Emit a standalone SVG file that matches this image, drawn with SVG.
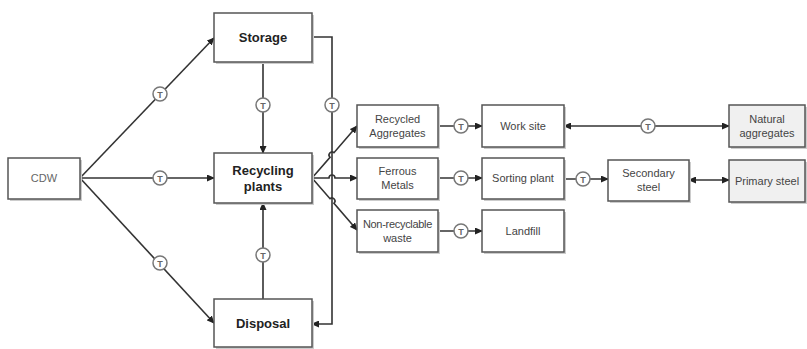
<svg xmlns="http://www.w3.org/2000/svg" width="807" height="349" viewBox="0 0 807 349">
<defs>
<marker id="ar" markerWidth="8" markerHeight="7" refX="7" refY="3.5" orient="auto-start-reverse" markerUnits="userSpaceOnUse">
<path d="M0,0 L8,3.5 L0,7 Z" fill="#222"/>
</marker>
</defs>
<style>
.box{fill:#fff;stroke:#555;stroke-width:1.5}
.gray{fill:#f0f0f0}
.sh{fill:#ccc;stroke:none}
.ln{fill:none;stroke:#333;stroke-width:1.6}
.tc{fill:#fff;stroke:#777;stroke-width:1.5}
.tt{font-family:"Liberation Sans",Arial,sans-serif;font-size:9px;fill:#666;text-anchor:middle;font-weight:bold}
.b{font-family:"Liberation Sans",Arial,sans-serif;font-size:13px;font-weight:bold;fill:#222;text-anchor:middle}
.r{font-family:"Liberation Sans",Arial,sans-serif;font-size:11px;fill:#444;text-anchor:middle}
</style>
<rect width="807" height="349" fill="#fff"/>
<g id="connectors">
<path class="ln" d="M80,178 L214,38" marker-end="url(#ar)"/>
<path class="ln" d="M80,178 L214,178" marker-end="url(#ar)"/>
<path class="ln" d="M80,178 L214,323" marker-end="url(#ar)"/>
<path class="ln" d="M263,62 L263,153" marker-end="url(#ar)"/>
<path class="ln" d="M263,299 L263,203" marker-end="url(#ar)"/>
<path class="ln" d="M312,37 L332,37 L332,324 L312,324" marker-end="url(#ar)"/>
<path class="ln" d="M312,178 L330.04,157.27 A3,3 0 0 1 333.96,152.73 L357,126" marker-end="url(#ar)"/>
<path class="ln" d="M312,178 L329,178 A3,3 0 0 1 335,178 L357,178" marker-end="url(#ar)"/>
<path class="ln" d="M312,178 L330.04,198.73 A3,3 0 0 1 333.96,203.27 L357,230" marker-end="url(#ar)"/>
<path class="ln" d="M438,126 L482,126" marker-end="url(#ar)"/>
<path class="ln" d="M438,178 L482,178" marker-end="url(#ar)"/>
<path class="ln" d="M438,231 L482,231" marker-end="url(#ar)"/>
<path class="ln" d="M564,126 L729,126" marker-start="url(#ar)" marker-end="url(#ar)"/>
<path class="ln" d="M564,179 L608,179" marker-end="url(#ar)"/>
<path class="ln" d="M689,180 L729,180" marker-start="url(#ar)" marker-end="url(#ar)"/>
</g>
<g id="transport">
<g><circle class="tc" cx="160" cy="94" r="7"/><text class="tt" x="160" y="97.5">T</text></g>
<g><circle class="tc" cx="160" cy="178" r="7"/><text class="tt" x="160" y="181.5">T</text></g>
<g><circle class="tc" cx="160" cy="263" r="7"/><text class="tt" x="160" y="266.5">T</text></g>
<g><circle class="tc" cx="263" cy="105" r="7"/><text class="tt" x="263" y="108.5">T</text></g>
<g><circle class="tc" cx="263" cy="255" r="7"/><text class="tt" x="263" y="258.5">T</text></g>
<g><circle class="tc" cx="332" cy="105" r="7"/><text class="tt" x="332" y="108.5">T</text></g>
<g><circle class="tc" cx="461" cy="126" r="7"/><text class="tt" x="461" y="129.5">T</text></g>
<g><circle class="tc" cx="461" cy="178" r="7"/><text class="tt" x="461" y="181.5">T</text></g>
<g><circle class="tc" cx="461" cy="231" r="7"/><text class="tt" x="461" y="234.5">T</text></g>
<g><circle class="tc" cx="648" cy="126" r="7"/><text class="tt" x="648" y="129.5">T</text></g>
<g><circle class="tc" cx="583" cy="179" r="7"/><text class="tt" x="583" y="182.5">T</text></g>
</g>
<g id="cdw"><rect class="sh" x="10" y="160" width="72" height="41"/><rect class="box" x="8" y="158" width="72" height="41"/><text class="r" x="44" y="182" style="fill:#666">CDW</text></g>
<g id="storage"><rect class="sh" x="216" y="15" width="98" height="49"/><rect class="box" x="214" y="13" width="98" height="49"/><text class="b" x="263" y="42">Storage</text></g>
<g id="recycling"><rect class="sh" x="216" y="155" width="98" height="50"/><rect class="box" x="214" y="153" width="98" height="50"/><text class="b" x="263" y="175">Recycling</text><text class="b" x="263" y="191">plants</text></g>
<g id="disposal"><rect class="sh" x="216" y="301" width="98" height="48"/><rect class="box" x="214" y="299" width="98" height="48"/><text class="b" x="263" y="328">Disposal</text></g>
<g id="recycled-aggregates"><rect class="sh" x="359" y="107" width="81" height="42"/><rect class="box" x="357" y="105" width="81" height="42"/><text class="r" x="397.5" y="123">Recycled</text><text class="r" x="397.5" y="137">Aggregates</text></g>
<g id="ferrous-metals"><rect class="sh" x="359" y="160" width="81" height="41"/><rect class="box" x="357" y="158" width="81" height="41"/><text class="r" x="397.5" y="175">Ferrous</text><text class="r" x="397.5" y="189">Metals</text></g>
<g id="non-recyclable"><rect class="sh" x="359" y="212" width="81" height="42"/><rect class="box" x="357" y="210" width="81" height="42"/><text class="r" x="397.5" y="228" style="letter-spacing:-0.3px">Non-recyclable</text><text class="r" x="397.5" y="242">waste</text></g>
<g id="work-site"><rect class="sh" x="484" y="107" width="82" height="42"/><rect class="box" x="482" y="105" width="82" height="42"/><text class="r" x="523" y="130">Work site</text></g>
<g id="sorting-plant"><rect class="sh" x="484" y="160" width="82" height="41"/><rect class="box" x="482" y="158" width="82" height="41"/><text class="r" x="523" y="182">Sorting plant</text></g>
<g id="landfill"><rect class="sh" x="484" y="212" width="82" height="42"/><rect class="box" x="482" y="210" width="82" height="42"/><text class="r" x="523" y="235">Landfill</text></g>
<g id="secondary-steel"><rect class="sh" x="610" y="162" width="81" height="41"/><rect class="box" x="608" y="160" width="81" height="41"/><text class="r" x="648.5" y="177">Secondary</text><text class="r" x="648.5" y="191">steel</text></g>
<g id="natural-aggregates"><rect class="sh" x="731" y="107" width="76" height="42"/><rect class="box gray" x="729" y="105" width="76" height="42"/><text class="r" x="767" y="123">Natural</text><text class="r" x="767" y="137">aggregates</text></g>
<g id="primary-steel"><rect class="sh" x="731" y="162" width="76" height="42"/><rect class="box gray" x="729" y="160" width="76" height="42"/><text class="r" x="767" y="185">Primary steel</text></g>
</svg>
